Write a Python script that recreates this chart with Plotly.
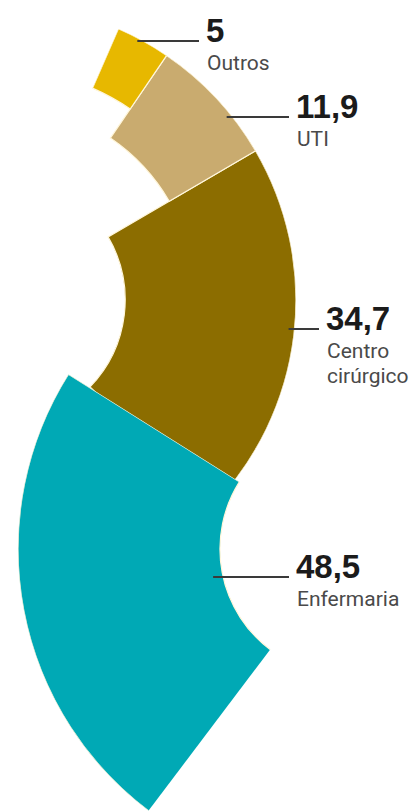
import numpy as np
import plotly.graph_objects as go

# ---------------- data ----------------
categories = ["Enfermaria", "Centro cirúrgico", "UTI", "Outros"]
values = [48.5, 34.7, 11.9, 5]
value_text = ["48,5", "34,7", "11,9", "5"]
label_lines = [["Enfermaria"], ["Centro", "cirúrgico"], ["UTI"], ["Outros"]]

# ---------------- styles ----------------
colors = ["#00A9B5", "#8C6D00", "#C9AB6F", "#E7B800"]
sep_color = "#FFF6DA"
W, H = 412, 811
THICK_K = 29.0                      # ring thickness (px) = K * sqrt(value)

# upper arc (Centro cirúrgico, UTI, Outros) – centre sits on the left edge
UP_C, UP_R, UP_START, UP_DEG = (0.0, 300.0), 296.0, -44.0, 2.14
# lower arc (Enfermaria) – centre on the right
LO_C, LO_R, LO_START, LO_DEG = (346.0, 549.0), 328.0, 147.8, 1.77

# label anchors: (left x, value baseline)  [layout positions]
label_pos = {"Enfermaria": (295, 578), "Centro cirúrgico": (325, 330),
             "UTI": (295, 118), "Outros": (205, 42)}

upper_idx = [1, 2, 3]
lower_idx = [0]


def arc_geometry(idx, start, deg_per_unit, outer):
    thetas, widths, rs, bases = [], [], [], []
    cur = start
    for i in idx:
        span = values[i] * deg_per_unit
        t = THICK_K * np.sqrt(values[i])
        thetas.append(cur + span / 2)
        widths.append(span)
        rs.append(t)
        bases.append(outer - t)
        cur += span
    return thetas, widths, rs, bases, cur


def sector_bbox(s0, s1):
    angs = [s0, s1] + [a for a in range(-360, 721, 90) if s0 <= a <= s1]
    xs = [np.cos(np.radians(a)) for a in angs] + [0.0]
    ys = [np.sin(np.radians(a)) for a in angs] + [0.0]
    return min(xs), max(xs), min(ys), max(ys)


def polar_domain(c, R, s0, s1):
    x0, x1, y0, y1 = sector_bbox(s0, s1)
    left, right = c[0] + x0 * R, c[0] + x1 * R
    top, bottom = c[1] - y1 * R, c[1] - y0 * R
    clamp = lambda v: float(min(1.0, max(0.0, v)))
    return dict(x=[clamp(left / W), clamp(right / W)],
                y=[clamp(1 - bottom / H), clamp(1 - top / H)])


th_u, w_u, r_u, b_u, end_u = arc_geometry(upper_idx, UP_START, UP_DEG, UP_R)
th_l, w_l, r_l, b_l, end_l = arc_geometry(lower_idx, LO_START, LO_DEG, LO_R)

# keep the lower sector inside the page (bottom of the wedge is cut by the frame)
lo_max_end = 180 + np.degrees(np.arcsin((H - LO_C[1]) / LO_R)) - 0.05
lo_end = min(end_l, lo_max_end)

fig = go.Figure()
fig.add_trace(go.Barpolar(
    r=r_u, base=b_u, theta=th_u, width=w_u,
    marker=dict(color=[colors[i] for i in upper_idx], line=dict(color=sep_color, width=1.2)),
    subplot="polar", hoverinfo="skip", showlegend=False))
fig.add_trace(go.Barpolar(
    r=r_l, base=b_l, theta=th_l, width=w_l,
    marker=dict(color=[colors[i] for i in lower_idx], line=dict(color=sep_color, width=1.2)),
    subplot="polar2", hoverinfo="skip", showlegend=False))


def polar_layout(dom, sector, R):
    hidden = dict(visible=False, showgrid=False, showline=False, showticklabels=False, ticks="")
    return dict(domain=dom, sector=sector, hole=0, bgcolor="rgba(0,0,0,0)", barmode="overlay",
                radialaxis=dict(range=[0, R], autorange=False, **hidden),
                angularaxis=dict(rotation=0, direction="counterclockwise", thetaunit="degrees",
                                 **hidden))


fig.update_layout(
    polar=polar_layout(polar_domain(UP_C, UP_R, UP_START, end_u), [UP_START, end_u], UP_R),
    polar2=polar_layout(polar_domain(LO_C, LO_R, LO_START, lo_end), [LO_START, lo_end], LO_R),
)

# ---------------- labels & leader lines ----------------
VAL_FONT = dict(family="Liberation Sans, Arial, sans-serif", size=33, color="#1b1b1b")
CAT_FONT = dict(family="Roboto, Liberation Sans, sans-serif", size=21, color="#4a4a4a")
annotations, shapes = [], []


def px(x, y):
    return x / W, 1 - y / H


for i, cat in enumerate(categories):
    lx, base = label_pos[cat]
    # value
    ax, ay = px(lx, base + 8)
    annotations.append(dict(x=ax, y=ay, xref="paper", yref="paper", xanchor="left", yanchor="bottom",
                            text="<b>%s</b>" % value_text[i], showarrow=False, font=VAL_FONT,
                            borderpad=0))
    # category lines
    for k, line in enumerate(label_lines[i]):
        cb = base + 29 + 25 * k
        ax, ay = px(lx + 1, cb + 5)
        annotations.append(dict(x=ax, y=ay, xref="paper", yref="paper", xanchor="left",
                                yanchor="bottom", text=line, showarrow=False, font=CAT_FONT,
                                borderpad=0))
    # leader line
    ly = base - 1
    if i in upper_idx:
        x_start = UP_C[0] + np.sqrt(UP_R ** 2 - (ly - UP_C[1]) ** 2) - 6
    else:
        ri = LO_R - THICK_K * np.sqrt(values[i])
        x_start = LO_C[0] - np.sqrt(ri ** 2 - (ly - LO_C[1]) ** 2) - 10
    x0, y0 = px(x_start, ly)
    x1, y1 = px(lx - 6, ly)
    shapes.append(dict(type="line", xref="paper", yref="paper", x0=x0, y0=y0, x1=x1, y1=y1,
                       line=dict(color="#3a3a3a", width=2)))

fig.update_layout(
    width=W, height=H, margin=dict(l=0, r=0, t=0, b=0),
    paper_bgcolor="white", plot_bgcolor="white", showlegend=False,
    annotations=annotations, shapes=shapes,
)

fig.write_html("out.html")
